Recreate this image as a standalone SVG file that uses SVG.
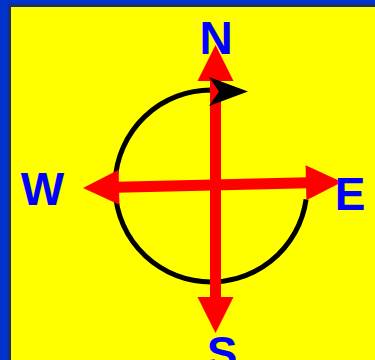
<svg xmlns="http://www.w3.org/2000/svg" width="375" height="360" viewBox="0 0 375 360">
  <style>
    .lbl { font-family: "Liberation Sans", Arial, sans-serif; font-weight: bold; font-size: 46px; fill: #0000ff; text-anchor: middle; }
    .shaft { stroke: #ff0000; stroke-width: 11; fill: none; }
    .head { fill: #ff0000; }
    .arc { stroke: #000000; stroke-width: 5; fill: none; }
  </style>
  <g id="background">
    <rect x="0" y="0" width="375" height="360" fill="#0033cc"/>
    <rect x="8" y="4" width="367" height="356" fill="#1c2f70"/>
    <rect x="11" y="7" width="364" height="353" fill="#ffff00"/>
  </g>
  <g id="connectors">
    <path id="rotation-arc" class="arc" d="M306.1,199.4 A96,96 0 1 1 211,90 L220,90.8"/>
    <g id="ns-arrow">
      <line class="shaft" x1="215.5" y1="78" x2="215.5" y2="300"/>
      <polygon class="head" points="215.5,45 197.5,81 233.5,81"/>
      <polygon class="head" points="197.5,297 233.5,297 215.5,333"/>
    </g>
    <g id="we-arrow">
      <line class="shaft" x1="117" y1="187.2" x2="308" y2="182.8"/>
      <polygon class="head" points="83,188 119.4,204.7 118.6,169.7"/>
      <polygon class="head" points="342,182 306.4,200.3 305.6,165.3"/>
    </g>
    <polygon id="rotation-head" fill="#000000" points="209,77 248,91.5 209,106 219,91.5"/>
  </g>
  <g id="north"><text class="lbl" x="216" y="54">N</text></g>
  <g id="west"><text class="lbl" x="42.5" y="205">W</text></g>
  <g id="east"><text class="lbl" x="350" y="210">E</text></g>
  <g id="south"><text class="lbl" x="222" y="368.5">S</text></g>
</svg>
